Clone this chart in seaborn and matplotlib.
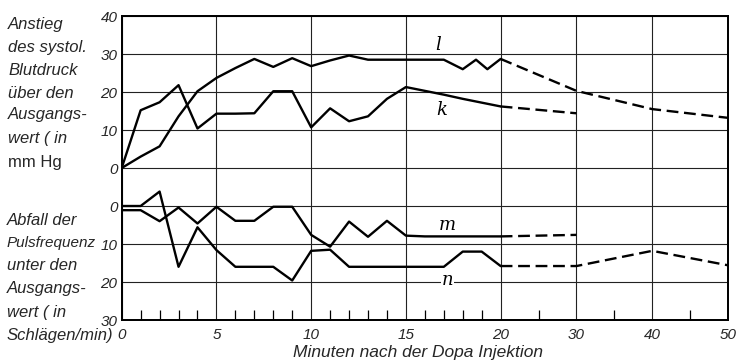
import numpy as np
import pandas as pd
import matplotlib
matplotlib.use("Agg")
import matplotlib.pyplot as plt
import seaborn as sns

sns.set_theme(style="white")
plt.rcParams["font.family"] = ["Liberation Sans", "DejaVu Sans"]

# ---------------- data ----------------
# upper panel: rise of systolic blood pressure (mm Hg)
t_l = [0, 1, 2, 3, 4, 5, 6, 7, 8, 9, 10, 11, 12, 13, 14, 15, 16, 17, 18, 18.7, 19.3, 20]
v_l = [0, 3, 5.7, 13.6, 20.2, 23.7, 26.3, 28.7, 26.6, 28.9, 26.8, 28.3, 29.6, 28.5, 28.5,
       28.5, 28.5, 28.5, 26.0, 28.5, 26.0, 28.7]
t_l_d = [20, 30, 40, 50]
v_l_d = [28.7, 20.3, 15.5, 13.2]

t_k = [0, 1, 2, 3, 4, 5, 6, 7, 8, 9, 10, 11, 12, 13, 14, 15, 16, 17, 18, 19, 20]
v_k = [0, 15.2, 17.3, 21.8, 10.4, 14.3, 14.3, 14.4, 20.2, 20.2, 10.7, 15.7, 12.3, 13.6, 18.2,
       21.3, 20.3, 19.3, 18.2, 17.2, 16.2]
t_k_d = [20, 30]
v_k_d = [16.2, 14.4]

# lower panel: fall of pulse rate (beats/min)
t_m = [0, 1, 2, 3, 4, 5, 6, 7, 8, 9, 10, 11, 12, 13, 14, 15, 16, 17, 18, 19, 20]
v_m = [1.1, 1.1, 4.0, 0.4, 4.6, 0.2, 3.9, 3.9, 0.2, 0.2, 7.6, 10.7, 4.1, 8.1, 3.9, 7.8,
       8.0, 8.0, 8.0, 8.0, 8.0]
t_m_d = [20, 30]
v_m_d = [8.0, 7.6]

t_n = [0, 1, 2, 3, 4, 5, 6, 7, 8, 9, 10, 11, 12, 13, 14, 15, 16, 17, 18, 19, 20]
v_n = [0, 0, -3.8, 16.0, 5.6, 11.6, 16.0, 16.0, 16.0, 19.6, 11.8, 11.5, 16.0, 16.0, 16.0,
       16.0, 16.0, 16.0, 12.0, 12.0, 15.8]
t_n_d = [20, 30, 40, 50]
v_n_d = [15.8, 15.8, 11.8, 15.6]

x_major = [0, 5, 10, 15, 20, 30, 40, 50]
x_minor = [1, 2, 3, 4, 6, 7, 8, 9, 11, 12, 13, 14, 16, 17, 18, 19, 25, 35, 45]
y_top_ticks = [0, 10, 20, 30, 40]
y_bot_ticks = [0, 10, 20, 30]

top_text = ["Anstieg", "des systol.", "Blutdruck", "über den", "Ausgangs-", "wert ( in", "mm Hg"]
bot_text = ["Abfall der", "Pulsfrequenz", "unter den", "Ausgangs-", "wert ( in", "Schlägen/min)"]
x_title = "Minuten nach der Dopa Injektion"


# piecewise x scale: after 20 min the axis is compressed
def fwd(x):
    x = np.asarray(x, dtype=float)
    return np.where(x <= 20, x, 20 + (x - 20) * 0.4)


def inv(y):
    y = np.asarray(y, dtype=float)
    return np.where(y <= 20, y, 20 + (y - 20) / 0.4)


W, H = 736, 364
fig = plt.figure(figsize=(W / 100, H / 100), dpi=100)
L, R, T, B = 121.7, 728, 16, 320
ax = fig.add_axes([L / W, 1 - B / H, (R - L) / W, (B - T) / H])
ax.set_xscale("function", functions=(fwd, inv))
ax.set_xlim(0, 50)
ax.set_ylim(-40, 40)

ax2 = ax.twinx()
ax2.set_ylim(30, -50)

LW = 1.7
DASH = (5, 2.4)


def draw(axis, t, v, dashed=False):
    df = pd.DataFrame({"t": t, "v": v})
    n0 = len(axis.lines)
    sns.lineplot(data=df, x="t", y="v", ax=axis, color="black", linewidth=LW,
                 estimator=None, sort=False)
    if dashed:
        for ln in axis.lines[n0:]:
            ln.set_dashes(DASH)


draw(ax, t_l, v_l)
draw(ax, t_l_d, v_l_d, True)
draw(ax, t_k, v_k)
draw(ax, t_k_d, v_k_d, True)
draw(ax2, t_m, v_m)
draw(ax2, t_m_d, v_m_d, True)
draw(ax2, t_n, v_n)
draw(ax2, t_n_d, v_n_d, True)

for a in (ax, ax2):
    a.set_xlabel("")
    a.set_ylabel("")
    for s in a.spines.values():
        s.set_visible(True)
        s.set_color("black")
        s.set_linewidth(1.3)

# grids
gkw = dict(color="#222222", linewidth=0.8)
ax.set_xticks(x_major)
ax.set_xticks(x_minor, minor=True)
ax.set_xticklabels([str(v) for v in x_major], fontstyle="italic", fontsize=11)
ax.set_yticks(y_top_ticks)
ax.set_yticklabels([str(v) for v in y_top_ticks], fontstyle="italic", fontsize=11)
ax.grid(True, which="major", axis="both", **gkw)
ax.tick_params(axis="x", which="major", length=0, pad=6)
ax.tick_params(axis="x", which="minor", direction="in", length=7, width=0.9,
               bottom=True, top=False, color="black")
ax.tick_params(axis="y", which="major", length=0, pad=3, left=True, right=False)

ax2.yaxis.tick_left()
ax2.set_yticks(y_bot_ticks)
ax2.set_yticklabels([str(v) for v in y_bot_ticks], fontstyle="italic", fontsize=11)
ax2.grid(True, which="major", axis="y", **gkw)
ax2.grid(False, axis="x")
ax2.tick_params(axis="y", which="major", length=0, pad=3)

# curve letters
lab = dict(fontfamily="DejaVu Serif", fontstyle="italic", fontsize=13, color="black")
ax.text(16.7, 30.0, "l", ha="center", va="bottom", **lab)
ax.text(16.9, 15.3, "k", ha="center", va="center", **lab)
ax2.text(17.2, 5.0, "m", ha="center", va="center", **lab)
ax2.text(17.2, 19.6, "n", ha="center", va="center",
         bbox=dict(facecolor="white", edgecolor="none", pad=0.5), **lab)

# axis title
ax.set_xlabel(x_title, fontstyle="italic", fontsize=12.5)
ax.xaxis.set_label_coords((418 - L) / (R - L), -(353 - B) / (B - T))
ax.xaxis.label.set_va("center")

# left descriptive text blocks
top_base = [29.3, 51.7, 75, 98.3, 119.3, 143.3, 166.7]
bot_base = [225, 246.7, 270, 293.3, 316.7, 340]
for s, yb in zip(top_text, top_base):
    st = "normal" if s == "mm Hg" else "italic"
    fig.text(8 / W, 1 - yb / H, s, ha="left", va="baseline", fontsize=12, fontstyle=st)
for s, yb in zip(bot_text, bot_base):
    fs = 11 if s == "Pulsfrequenz" else 12
    fig.text(7 / W, 1 - yb / H, s, ha="left", va="baseline", fontsize=fs, fontstyle="italic")

fig.savefig("out.png", dpi=100)
